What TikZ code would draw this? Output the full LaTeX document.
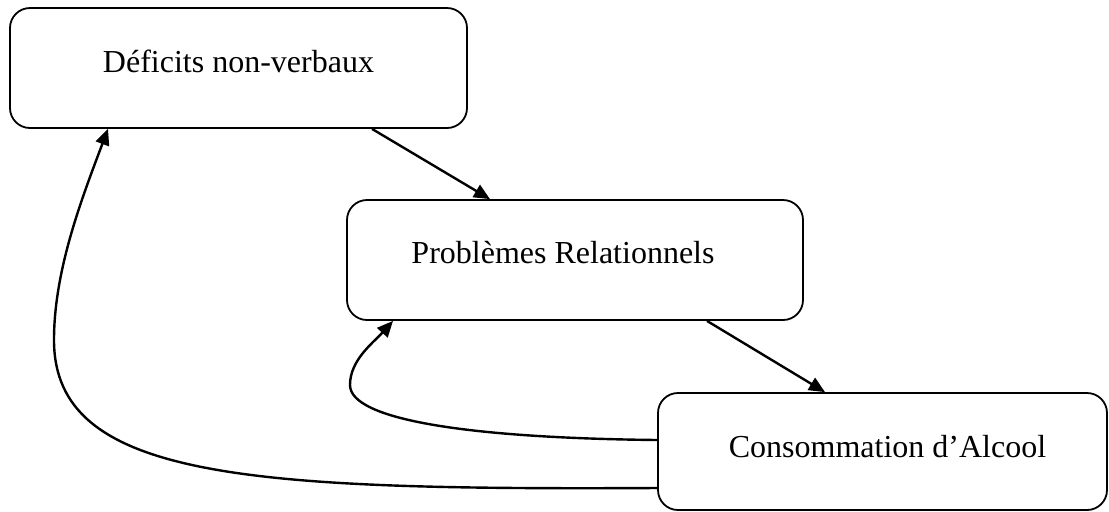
\documentclass[tikz,border=0pt]{standalone}
\usepackage{fontspec}
\setmainfont{Liberation Serif}
\usetikzlibrary{arrows.meta}

\begin{document}
\begin{tikzpicture}[x=0.5pt, y=-0.5pt, >={Triangle[length=8pt,width=7pt]},
		box/.style={draw, line width=0.9pt, rounded corners=10pt,
			minimum height=60pt, inner sep=0pt},
		lbl/.style={font=\fontsize{16}{19}\selectfont, inner sep=0pt,
			text height=11pt, text depth=0pt},
		conn/.style={->, line width=1.2pt}]
		\useasboundingbox (0,0) rectangle (1109,511);

		\node[box, minimum width=228.5pt,
			label={[lbl, yshift=3.5pt]center:Déficits non-verbaux}]
			(deficits) at (238.5,68) {};

		\node[box, minimum width=228pt,
			label={[lbl, xshift=-6pt, yshift=4pt]center:Problèmes Relationnels}]
			(problemes) at (575,260) {};

		\node[box, minimum width=224.5pt, minimum height=58.5pt,
			label={[lbl, xshift=2.5pt, yshift=2.5pt]center:Consommation d’Alcool}]
			(alcool) at (882.5,451.5) {};

		\coordinate (bend-inner) at (350,385);
		\coordinate (bend-outer) at (54,340);

		\draw[conn] ([xshift=66.75pt]deficits.south)
			-- ([xshift=-42.5pt]problemes.north);
		\draw[conn] ([xshift=66pt]problemes.south)
			-- ([xshift=-28.75pt]alcool.north);

		% retours depuis la consommation
		\draw[conn] ([yshift=5.75pt]alcool.west)
			.. controls (470,438) and (350,420) .. (bend-inner)
			.. controls (350,360) and (373,343) .. ([xshift=-91pt]problemes.south);
		\draw[conn] ([yshift=-18.25pt]alcool.west)
			.. controls (250,490) and (54,480) .. (bend-outer)
			.. controls (54,270) and (82,198) .. ([xshift=-65.25pt]deficits.south);
	\end{tikzpicture}
\end{document}
